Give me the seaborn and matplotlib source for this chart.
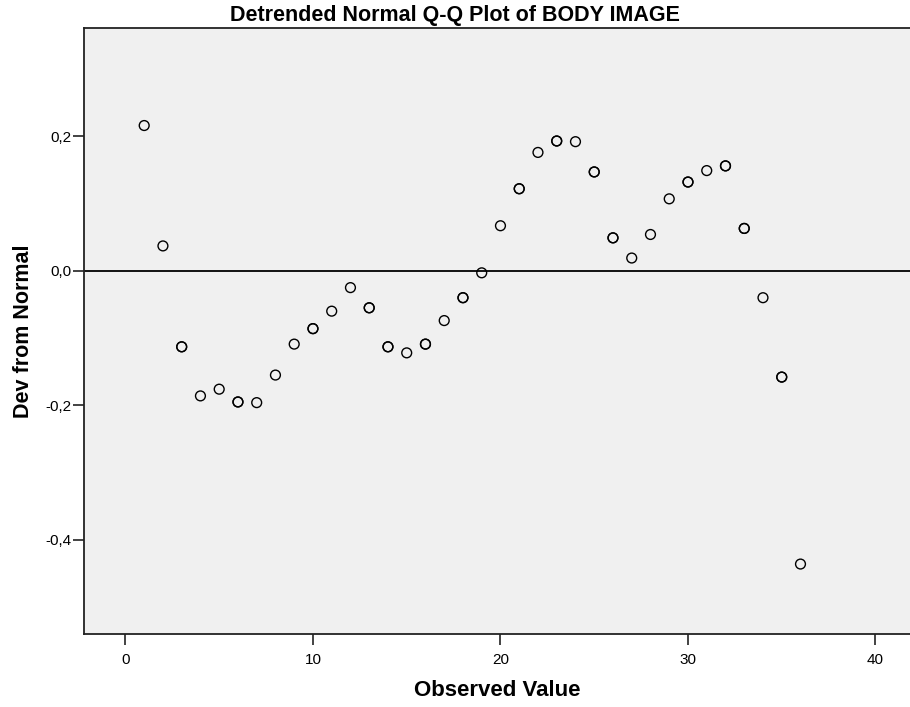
import matplotlib
matplotlib.use("Agg")
import matplotlib.pyplot as plt
import numpy as np
import pandas as pd
import seaborn as sns
from matplotlib.ticker import FuncFormatter

observed = [1, 2, 3, 4, 5, 6, 7, 8, 9, 10, 11, 12, 13, 14, 15, 16, 17, 18,
            19, 20, 21, 22, 23, 24, 25, 26, 27, 28, 29, 30, 31, 32, 33, 34, 35, 36]
dev_normal = [0.216, 0.037, -0.113, -0.186, -0.176, -0.195, -0.196, -0.155,
              -0.109, -0.086, -0.060, -0.025, -0.055, -0.113, -0.122, -0.109,
              -0.074, -0.040, -0.003, 0.067, 0.122, 0.176, 0.193, 0.192,
              0.147, 0.049, 0.019, 0.054, 0.107, 0.132, 0.149, 0.156, 0.063,
              -0.040, -0.158, -0.436]
# cases per value (repeated cases overlap and look bolder)
n_cases = [1, 1, 2, 1, 1, 2, 1, 1, 1, 2, 1, 1, 2, 2, 1, 2, 1, 2,
           1, 1, 2, 1, 2, 1, 2, 2, 1, 1, 1, 2, 1, 2, 2, 1, 2, 1]

x_ticks = [0, 10, 20, 30, 40]
y_ticks = [0.2, 0.0, -0.2, -0.4]

df = pd.DataFrame({"observed": observed, "dev": dev_normal, "n": n_cases})
df = df.loc[df.index.repeat(df["n"])].reset_index(drop=True)

sns.set_style("white")
plt.rcParams["font.family"] = ["Liberation Sans", "DejaVu Sans"]
plt.rcParams["text.color"] = "black"
plt.rcParams["axes.labelcolor"] = "black"
plt.rcParams["xtick.color"] = "black"
plt.rcParams["ytick.color"] = "black"

fig = plt.figure(figsize=(9.1, 7.07), dpi=100)
ax = fig.add_axes([84 / 910, 1 - 634 / 707, (910 - 84) / 910, (634 - 28) / 707])
ax.set_facecolor("#f0f0f0")

ax.axhline(0, color="black", lw=1.3, zorder=1)
sns.scatterplot(data=df, x="observed", y="dev", ax=ax, marker="o", s=50,
                facecolor="none", edgecolor="black", linewidth=1.0, zorder=3)

ax.set_xlim(-2.21, 41.84)
ax.set_ylim(-0.540, 0.361)
ax.set_xticks(x_ticks)
ax.set_yticks(y_ticks)
ax.yaxis.set_major_formatter(FuncFormatter(lambda v, p: f"{v:.1f}".replace(".", ",")))
ax.tick_params(bottom=True, left=True, direction="out", length=8, width=1.2,
               color="#222222", labelsize=11, pad=1)
ax.tick_params(axis="x", pad=6)

for side in ["left", "bottom", "top"]:
    ax.spines[side].set_color("#222222")
    ax.spines[side].set_linewidth(1.3)
ax.spines["right"].set_visible(False)

ax.set_xlabel("Observed Value", fontsize=16, fontweight="bold", labelpad=9)
ax.set_ylabel("Dev from Normal", fontsize=15.5, fontweight="bold", labelpad=8)
fig.text(0.5, 1 - 16 / 707, "Detrended Normal Q-Q Plot of BODY IMAGE",
         ha="center", va="center", fontsize=15.5, fontweight="bold")

fig.savefig("out.png", dpi=100)
